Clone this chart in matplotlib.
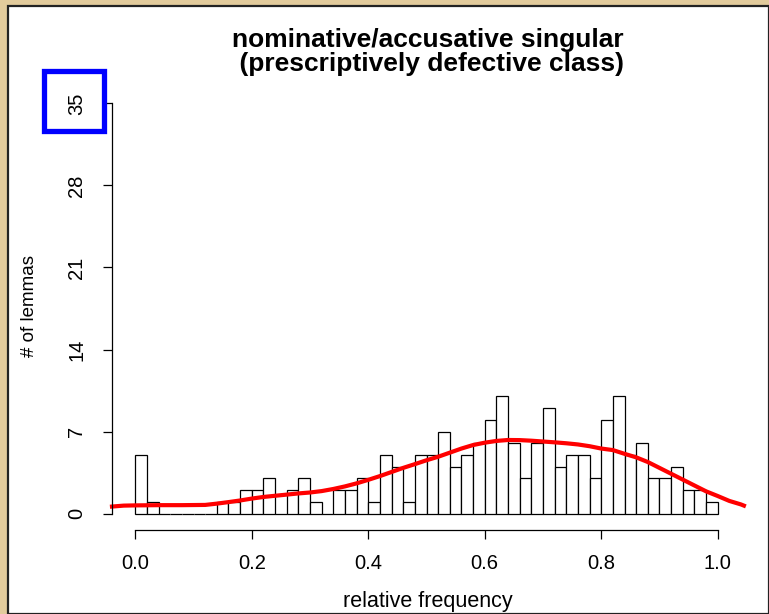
import numpy as np
import matplotlib
matplotlib.use("Agg")
import matplotlib.pyplot as plt
from matplotlib.patches import Rectangle

plt.rcParams['font.family'] = ['Liberation Sans', 'DejaVu Sans']

# histogram: 50 bins of width 0.02 over [0, 1]
bin_edges = np.linspace(0, 1, 51)
counts = [5, 1, 0, 0, 0, 0, 0, 1, 1, 2,
          2, 3, 0, 2, 3, 1, 0, 2, 2, 3,
          1, 5, 4, 1, 5, 5, 7, 4, 5, 6,
          8, 10, 6, 3, 6, 9, 4, 5, 5, 3,
          8, 10, 5, 6, 3, 3, 4, 2, 2, 1]

# smoothed density, scaled to counts
dens_x = [-0.04, -0.02, 0.00, 0.04, 0.08, 0.12, 0.14, 0.16, 0.18, 0.20,
          0.22, 0.24, 0.26, 0.28, 0.30, 0.32, 0.34, 0.36, 0.38, 0.40,
          0.42, 0.44, 0.46, 0.48, 0.50, 0.52, 0.54, 0.56, 0.58, 0.60,
          0.62, 0.64, 0.66, 0.68, 0.70, 0.72, 0.74, 0.76, 0.78, 0.80,
          0.82, 0.84, 0.86, 0.88, 0.90, 0.92, 0.94, 0.96, 0.98, 1.00,
          1.02, 1.04, 1.045]
dens_y = [0.60, 0.68, 0.70, 0.72, 0.72, 0.74, 0.85, 0.98, 1.12, 1.28,
          1.42, 1.52, 1.62, 1.72, 1.80, 1.92, 2.10, 2.32, 2.58, 2.88,
          3.20, 3.55, 3.90, 4.22, 4.55, 4.85, 5.20, 5.55, 5.85, 6.05,
          6.20, 6.28, 6.27, 6.22, 6.15, 6.08, 6.00, 5.90, 5.75, 5.55,
          5.42, 5.10, 4.80, 4.40, 3.90, 3.40, 2.90, 2.40, 1.90, 1.50,
          1.08, 0.78, 0.68]

x_ticks = [0.0, 0.2, 0.4, 0.6, 0.8, 1.0]
y_ticks = [0, 7, 14, 21, 28, 35]

W, H = 769, 614
fig = plt.figure(figsize=(W / 100, H / 100), dpi=100)
fig.patch.set_facecolor('#e2cb9c')

# white panel with a dark frame, kept behind the axes
panel = Rectangle((8 / W, 0), 1 - 8 / W, 1 - 6 / H, transform=fig.transFigure,
                  facecolor='white', edgecolor='#222222', linewidth=1.6,
                  zorder=-10)
fig.patches.append(panel)

ax = fig.add_axes([112 / W, 84 / H, 629 / W, 443 / H])
ax.set_facecolor('none')

widths = np.diff(bin_edges)
ax.bar(bin_edges[:-1], counts, width=widths, align='edge',
       facecolor='white', edgecolor='black', linewidth=0.9)
ax.plot(dens_x, dens_y, color='red', linewidth=3, clip_on=False)

ax.set_xlim(-0.04, 1.04)
ax.set_ylim(-1.4, 36.4)

for s in ['top', 'right']:
    ax.spines[s].set_visible(False)
ax.spines['left'].set_bounds(0, 35)
ax.spines['bottom'].set_bounds(0, 1)
ax.spines['left'].set_linewidth(0.9)
ax.spines['bottom'].set_linewidth(0.9)

ax.set_xticks(x_ticks)
ax.set_xticklabels([f"{v:.1f}" for v in x_ticks])
ax.set_yticks(y_ticks)
ax.set_yticklabels([str(v) for v in y_ticks], rotation=90, va='center')
ax.tick_params(axis='both', direction='out', length=6.5, width=0.9,
               labelsize=14.5)
ax.tick_params(axis='x', pad=11)
ax.tick_params(axis='y', pad=12)

fig.text(428 / W, 1 - 28 / H,
         "nominative/accusative singular\n (prescriptively defective class)",
         ha='center', va='top', fontsize=19, fontweight='bold',
         linespacing=0.98)
fig.text(428 / W, 1 - 602 / H, "relative frequency", ha='center',
         va='center', fontsize=15.5)
fig.text(30 / W, 1 - 306 / H, "# of lemmas", ha='center', va='center',
         rotation=90, fontsize=13.5)

# highlight box around the top y tick label
hl = Rectangle((44 / W, 1 - 131 / H), 60 / W, 60 / H, transform=fig.transFigure,
               facecolor='none', edgecolor='#0000ff', linewidth=3.8, zorder=10)
fig.patches.append(hl)

fig.savefig("out.png", dpi=100, facecolor=fig.get_facecolor())
